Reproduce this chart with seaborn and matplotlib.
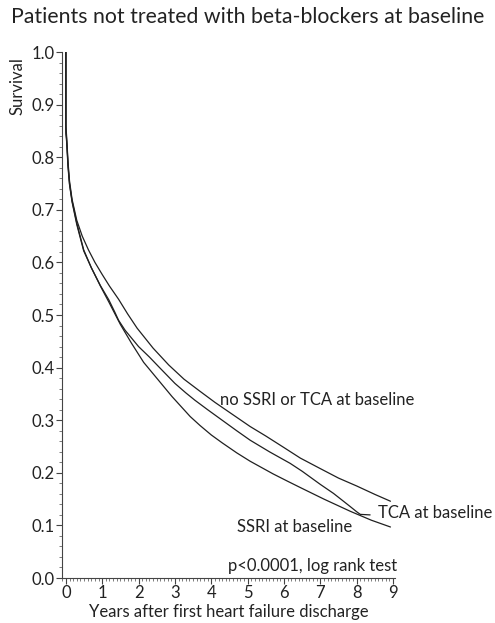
import pandas as pd
import matplotlib.pyplot as plt
import seaborn as sns
from matplotlib.ticker import MultipleLocator

# Kaplan-Meier curves (years, survival)
t_none = [0, 0.0, 0.02, 0.06, 0.1, 0.17, 0.3, 0.45, 0.62, 0.8, 1.0, 1.2, 1.45, 1.7, 1.96,
          2.4, 2.83, 3.25, 3.69, 4.1, 4.5, 5.07, 5.5, 6.0, 6.45, 7.0, 7.5, 8.0, 8.5, 8.93]
s_none = [1.0, 0.86, 0.84, 0.79, 0.755, 0.72, 0.68, 0.65, 0.624, 0.60, 0.577, 0.555, 0.53, 0.502, 0.475,
          0.437, 0.405, 0.378, 0.355, 0.334, 0.315, 0.288, 0.27, 0.248, 0.228, 0.208, 0.19, 0.175, 0.159, 0.146]

t_tca = [0, 0.0, 0.02, 0.06, 0.1, 0.17, 0.3, 0.49, 0.7, 0.95, 1.18, 1.35, 1.45, 1.63, 2.0, 2.3,
         2.55, 3.0, 3.3, 3.55, 3.9, 4.3, 4.7, 5.07, 5.6, 6.17, 6.5, 6.72, 7.0, 7.36, 7.6, 7.82,
         8.0, 8.1, 8.37]
s_tca = [1.0, 0.85, 0.835, 0.785, 0.75, 0.717, 0.675, 0.624, 0.59, 0.556, 0.529, 0.505, 0.49, 0.471, 0.44, 0.42,
         0.402, 0.37, 0.352, 0.338, 0.32, 0.30, 0.28, 0.262, 0.24, 0.218, 0.203, 0.192, 0.178, 0.161, 0.148, 0.136,
         0.126, 0.121, 0.12]

t_ssri = [0, 0.0, 0.02, 0.06, 0.1, 0.17, 0.3, 0.49, 0.7, 0.95, 1.18, 1.5, 1.8, 2.14, 2.5, 2.92,
          3.42, 3.69, 4.0, 4.3, 4.7, 5.07, 5.7, 6.1, 6.45, 7.1, 7.82, 8.4, 8.93]
s_ssri = [1.0, 0.845, 0.83, 0.78, 0.748, 0.715, 0.672, 0.622, 0.59, 0.555, 0.525, 0.482, 0.447, 0.41, 0.38, 0.345,
          0.307, 0.29, 0.272, 0.257, 0.238, 0.222, 0.198, 0.184, 0.172, 0.15, 0.127, 0.11, 0.097]

df = pd.concat([
    pd.DataFrame({'years': t_none, 'survival': s_none, 'group': 'none'}),
    pd.DataFrame({'years': t_tca, 'survival': s_tca, 'group': 'tca'}),
    pd.DataFrame({'years': t_ssri, 'survival': s_ssri, 'group': 'ssri'}),
])

sns.set_style("ticks")
plt.rcParams['font.family'] = ['Lato', 'DejaVu Sans']
txt = '#222222'

fig = plt.figure(figsize=(4.95, 6.23), dpi=100)
ax = fig.add_axes([0.125, 0.0722, 0.673, 0.8443])

sns.lineplot(data=df, x='years', y='survival', hue='group', units='group',
             estimator=None, sort=False, palette=['#202020'] * 3,
             linewidth=0.9, legend=False, ax=ax)

ax.set_xlim(-0.11, 9.055)
ax.set_ylim(0, 1.0)
ax.xaxis.set_major_locator(MultipleLocator(1))
ax.xaxis.set_minor_locator(MultipleLocator(0.1))
ax.yaxis.set_major_locator(MultipleLocator(0.1))
ax.yaxis.set_minor_locator(MultipleLocator(0.02))
ax.yaxis.set_major_formatter(plt.FormatStrFormatter('%.1f'))
ax.tick_params(which='major', length=4, width=0.8, labelsize=12, colors='#444444',
               labelcolor=txt, pad=1)
ax.tick_params(which='minor', length=2, width=0.6, colors='#666666')
sns.despine(ax=ax)
for sp in ['left', 'bottom']:
    ax.spines[sp].set_color('#444444')
    ax.spines[sp].set_linewidth(0.8)

ax.set_xlabel("Years after first heart failure discharge", fontsize=12, color=txt, labelpad=2)
ax.set_ylabel("Survival", fontsize=12, color=txt, loc='top')
ax.yaxis.set_label_coords(-0.11, 0.99)
fig.suptitle("Patients not treated with beta-blockers at baseline", fontsize=15.3,
             color=txt, x=0.5, y=0.988)

ax.text(4.24, 0.338, "no SSRI or TCA at baseline", fontsize=12, color=txt,
        ha='left', va='center')
ax.text(8.6, 0.124, "TCA at baseline", fontsize=12, color=txt, ha='left', va='center')
ax.text(4.71, 0.097, "SSRI at baseline", fontsize=12, color=txt, ha='left', va='center')
ax.text(9.12, 0.023, "p<0.0001, log rank test", fontsize=12, color=txt,
        ha='right', va='center')

fig.savefig("out.png", dpi=100)
